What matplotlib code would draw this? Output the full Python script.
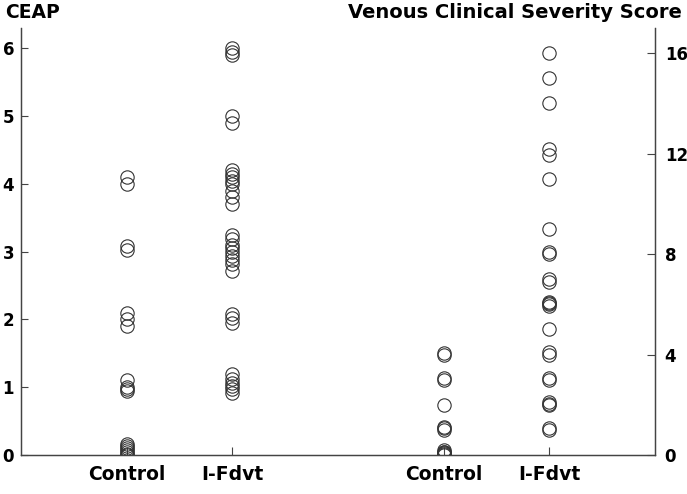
import matplotlib.pyplot as plt

plt.rcParams['font.family'] = ['DejaVu Sans']
plt.rcParams['font.weight'] = 'bold'

groups = ['Control', 'I-Fdvt', 'Control', 'I-Fdvt']
xpos = [1, 2, 4, 5]

ceap_control = [4.1, 4.0, 3.08, 3.02, 2.1, 2.0, 1.9, 1.1, 1.0, 0.97, 0.95,
                0.16, 0.13, 0.1, 0.07, 0.05, 0.02, 0.0]
ceap_ifdvt = [6.0, 5.95, 5.9, 5.0, 4.9,
              4.2, 4.15, 4.1, 4.05, 4.0, 3.9, 3.8, 3.7,
              3.24, 3.18, 3.1, 3.05, 3.0, 2.93, 2.88, 2.82, 2.72,
              2.08, 2.02, 1.95,
              1.19, 1.12, 1.06, 1.02, 0.97, 0.91]
vcss_control = [4.05, 3.98, 3.05, 2.98, 2.0, 1.12, 1.06, 1.0,
                0.18, 0.13, 0.1, 0.07, 0.04, 0.0]
vcss_ifdvt = [16.0, 15.0, 14.0, 12.2, 11.95, 11.0, 9.0, 8.1, 8.0,
              7.0, 6.9, 6.1, 6.05, 6.0, 5.92, 5.0, 4.1, 4.0,
              3.05, 2.98, 2.1, 2.05, 1.98, 1.07, 1.0]

fig = plt.figure(figsize=(6.87, 4.94), dpi=100)
ax = fig.add_axes([21 / 687, 39 / 494, 634 / 687, 427 / 494])
ax2 = ax.twinx()

mk = dict(marker='o', ls='none', ms=9.6, mfc='none', mec='#333333', mew=0.8)
ax.plot([xpos[0]] * len(ceap_control), ceap_control, **mk)
ax.plot([xpos[1]] * len(ceap_ifdvt), ceap_ifdvt, **mk)
ax2.plot([xpos[2]] * len(vcss_control), vcss_control, **mk)
ax2.plot([xpos[3]] * len(vcss_ifdvt), vcss_ifdvt, **mk)

ax.set_xlim(0, 6)
ax.set_ylim(0, 6.3)
ax2.set_ylim(0, 17.0)
ax.set_xticks(xpos)
ax.set_xticklabels(groups, fontsize=13.5)
ax.set_yticks(range(0, 7))
ax2.set_yticks([0, 4, 8, 12, 16])

for a in (ax, ax2):
    a.spines['top'].set_visible(False)
    for s in a.spines.values():
        s.set_color('#444444')
        s.set_linewidth(0.9)
ax.tick_params(axis='y', direction='in', length=5, width=0.8, color='#444444',
               labelsize=12, pad=5)
ax.tick_params(axis='x', direction='in', length=6, width=0.8, color='#444444',
               pad=7)
ax2.tick_params(axis='y', direction='in', length=6, width=0.8, color='#444444',
                labelsize=12, pad=7)

fig.text(5 / 687, 1 - 3 / 494, 'CEAP', fontsize=13.5, va='top', ha='left')
fig.text(682 / 687, 1 - 3 / 494, 'Venous Clinical Severity Score', fontsize=14,
         va='top', ha='right')

fig.savefig('out.png', dpi=100)
